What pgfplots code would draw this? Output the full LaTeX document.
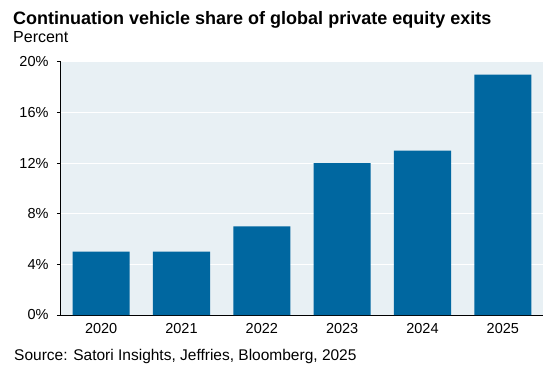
\documentclass[border=0pt]{standalone}
\usepackage{pgfplots}
\pgfplotsset{compat=1.18}
\usepackage{fontspec}
\setmainfont{Liberation Sans}
\definecolor{barblue}{HTML}{0067A0}
\definecolor{bgc}{HTML}{E8F0F4}
\begin{document}
\begin{tikzpicture}[x=1pt,y=1pt]
\path[use as bounding box] (-61,-60) rectangle (496,315);
\begin{axis}[
  at={(0,0)}, anchor=south west,
  scale only axis, width=482pt, height=253pt,
  xmin=-0.5, xmax=5.5, ymin=0, ymax=20,
  axis x line*=bottom, axis y line*=left,
  axis line style={black, line width=1pt, -},
  axis background/.style={fill=bgc},
  ybar, bar width=0.71, bar shift=0pt,
  xtick={0,1,2,3,4,5},
  xticklabels={2020,2021,2022,2023,2024,2025},
  x tick style={draw=none},
  minor xtick={-0.5,0.5,1.5,2.5,3.5,4.5,5.5},
  minor x tick style={black, line width=1pt},
  minor tick length=5pt,
  ytick={0,4,8,12,16,20},
  yticklabels={0\%,4\%,8\%,12\%,16\%,20\%},
  y tick style={black, line width=1pt},
  major tick length=4pt,
  tick align=outside,
  ymajorgrids, grid style={white, line width=1pt},
  tick label style={font=\fontsize{14.5}{16}\selectfont},
  xticklabel style={yshift=-1pt},
  yticklabel style={xshift=-5pt},
  clip=false,
]
\addplot[fill=barblue, draw=none] coordinates {(0,5) (1,5) (2,7) (3,12) (4,13) (5,19)};
\end{axis}
\node[anchor=base west, inner sep=0pt, font=\fontsize{18}{20}\selectfont\bfseries] at (-48,290) {Continuation vehicle share of global private equity exits};
\node[anchor=base west, inner sep=0pt, font=\fontsize{16}{18}\selectfont] at (-48,272) {Percent};
\node[anchor=base west, inner sep=0pt, font=\fontsize{15.5}{17}\selectfont] at (-47,-45) {Source: Satori Insights, Jeffries, Bloomberg, 2025};
\end{tikzpicture}
\end{document}
